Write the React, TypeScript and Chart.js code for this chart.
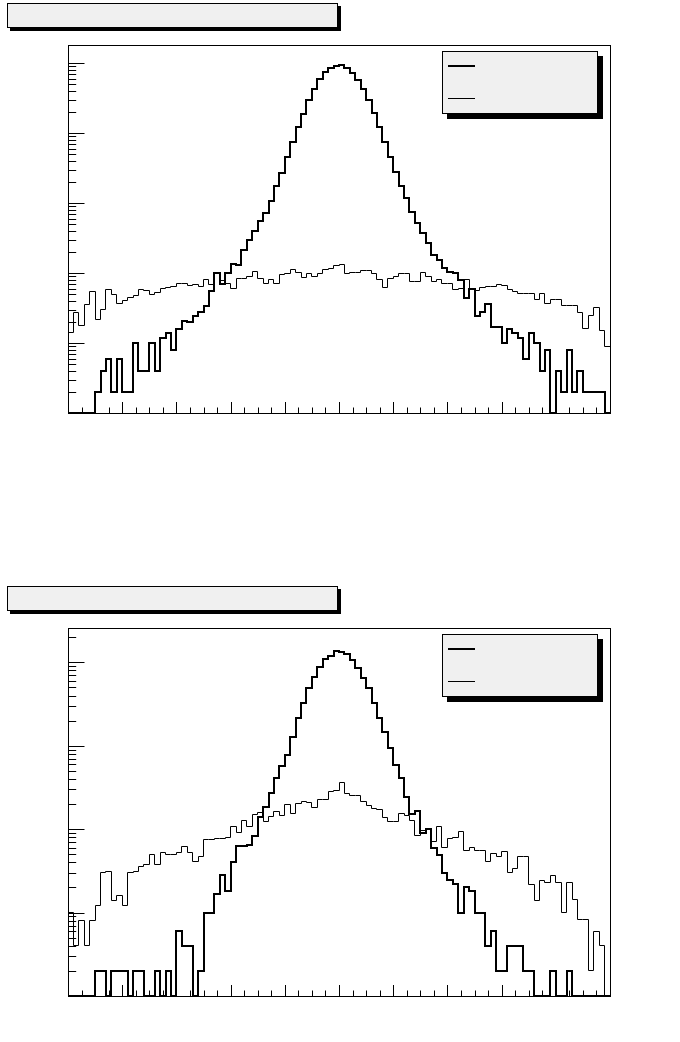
import React, { useEffect, useRef } from "react";
import { Chart, registerables } from "chart.js";

Chart.register(...registerables);

// ---- Data: 100 bins per histogram (bin index units on x) ----
const NBINS = 100;

// Panel 1: thick (peaked) and thin (flat) histograms
const sig1 = [
  0, 0, 0, 0, 0, 2, 4, 6, 2, 6,
  2, 2, 10, 4, 4, 10, 4, 12, 14, 8,
  16, 21, 20, 24, 28, 34, 56, 100, 70, 100,
  135, 131, 215, 299, 405, 558, 720, 1080, 1780, 2735,
  4630, 7590, 12200, 18900, 29900, 43000, 59000, 75800, 85000, 92000,
  93000, 85000, 73400, 57600, 43000, 29900, 19300, 12400, 7600, 4540,
  2830, 1770, 1180, 760, 516, 380, 273, 183, 155, 118,
  105, 100, 80, 44, 59, 24, 28, 36, 17, 17,
  10, 16, 14, 12, 6, 14, 10, 4, 8, 0,
  4, 2, 8, 2, 4, 2, 2, 2, 2, 0,
];
const bkg1 = [
  14, 27, 18, 36, 54, 22, 30, 58, 49, 37,
  41, 45, 48, 59, 56, 49, 52, 61, 63, 64,
  72, 72, 66, 68, 64, 80, 68, 100, 78, 72,
  61, 84, 84, 89, 105, 84, 72, 80, 72, 97,
  98, 111, 103, 87, 98, 89, 98, 111, 118, 129,
  131, 100, 102, 102, 108, 108, 100, 80, 63, 84,
  89, 98, 98, 76, 76, 102, 89, 76, 80, 72,
  72, 58, 61, 80, 59, 56, 63, 64, 64, 68,
  66, 59, 54, 51, 51, 51, 42, 51, 37, 42,
  42, 35, 34, 34, 27, 16, 25, 32, 15, 9,
];

// Panel 2
const sig2 = [
  0, 0, 0, 0, 0, 2, 2, 0, 2, 2,
  2, 0, 2, 2, 0, 0, 2, 0, 2, 0,
  6, 4, 4, 0, 2, 10, 10, 16.5, 28.6, 18,
  40.6, 62.7, 62.7, 64, 82.6, 138, 186, 270, 410, 570,
  777, 1285, 2175, 3236, 4900, 6640, 8900, 10900, 12070, 13500,
  13250, 12600, 10700, 8500, 6460, 4900, 3236, 2140, 1480, 950,
  595, 410, 241, 150, 166, 89, 99.5, 58.8, 48.9, 30,
  24.5, 21.9, 10, 20.4, 18.2, 10, 10, 4, 6, 2,
  2, 4, 4, 4, 2, 2, 0, 0, 0, 2,
  0, 0, 2, 0, 0, 0, 0, 0, 0, 0,
];
const bkg2 = [
  10, 4, 8, 4, 8, 12.3, 30, 31, 14, 16,
  12.3, 30, 31, 36, 38, 50, 38, 52, 50, 50,
  53, 62, 53, 41, 47, 75, 75, 77, 77, 80,
  107, 91, 126, 107, 148, 158, 125, 141, 162, 147,
  200, 155, 204, 216, 208, 182, 224, 227, 285, 289,
  361, 266, 251, 251, 214, 190, 175, 170, 138, 123,
  123, 155, 144, 128, 83, 97, 99, 72, 107, 60,
  77, 80, 93, 55, 60, 55, 55, 41, 51, 47,
  54, 30, 34, 47, 47, 22, 14, 24, 22.7, 27.5,
  23, 10, 22.7, 14.4, 8.3, 8.3, 2, 6, 4, 0,
];

// axis ranges (log y)
const Y_MIN = 1;
const Y_MAX_1 = 182600;
const Y_MAX_2 = 25800;

// points at bin low edges, stepped 'before' draws each bin as a flat run
function histPoints(vals: number[]) {
  const clampV = (v: number) => (v <= Y_MIN ? Y_MIN : v);
  const pts: { x: number; y: number }[] = [];
  for (let i = 0; i < vals.length; i++) pts.push({ x: i, y: clampV(vals[i]) });
  pts.push({ x: NBINS, y: clampV(vals[vals.length - 1]) });
  return pts;
}

type Box = { x: number; y: number; w: number; h: number; shadow: number };

// snap line vertices to device pixels so 1px lines stay crisp like ROOT output
const pixelSnap = {
  id: "pixelSnap",
  beforeDatasetDraw(chart: any, args: any) {
    const meta = args.meta;
    const ds = chart.data.datasets[args.index];
    const off = (ds.borderWidth || 1) % 2 === 1 ? 0.5 : 0;
    meta.data.forEach((el: any) => {
      el.x = Math.round(el.x - off) + off;
      el.y = Math.round(el.y - off) + off;
    });
    if (meta.dataset) meta.dataset._path = undefined;
  },
};

const rootDecor = {
  id: "rootDecor",
  afterDraw(chart: any, _args: any, opts: any) {
    const { ctx, chartArea: a, scales } = chart;
    const xs = scales.x;
    const ys = scales.y;
    ctx.save();
    ctx.strokeStyle = "#000";
    ctx.lineWidth = 1;
    // frame
    ctx.strokeRect(
      Math.round(a.left) + 0.5,
      Math.round(a.top) + 0.5,
      Math.round(a.right - a.left),
      Math.round(a.bottom - a.top)
    );
    ctx.beginPath();
    // x ticks (inside, from bottom)
    for (let k = 0; k <= 40; k++) {
      const v = k * 2.5;
      const px = Math.round(xs.getPixelForValue(v)) + 0.5;
      const len = k % 4 === 0 ? 11 : 5.5;
      ctx.moveTo(px, a.bottom);
      ctx.lineTo(px, a.bottom - len);
    }
    // y ticks (inside, from left)
    for (let d = 0; d <= 6; d++) {
      for (let m = 1; m <= 9; m++) {
        const val = m * Math.pow(10, d);
        if (val < ys.min || val > ys.max) continue;
        const py = Math.round(ys.getPixelForValue(val)) + 0.5;
        const len = m === 1 ? 16.5 : 8.2;
        ctx.moveTo(a.left, py);
        ctx.lineTo(a.left + len, py);
      }
    }
    ctx.stroke();

    const drawBox = (b: Box) => {
      ctx.fillStyle = "#000";
      ctx.fillRect(b.x + b.shadow, b.y + b.shadow, b.w, b.h);
      ctx.fillStyle = "#f0f0f0";
      ctx.fillRect(b.x, b.y, b.w, b.h);
      ctx.strokeStyle = "#000";
      ctx.lineWidth = 1;
      ctx.strokeRect(b.x + 0.5, b.y + 0.5, b.w - 1, b.h - 1);
    };
    drawBox(opts.titleBox);
    drawBox(opts.legendBox);
    // legend samples
    const lb = opts.legendBox as Box;
    const ds = chart.data.datasets;
    const samples = [ds[1], ds[0]];
    samples.forEach((d: any, i: number) => {
      const y = lb.y + 15 + i * 32 + (d.borderWidth % 2 === 1 ? 0.5 : 0);
      ctx.beginPath();
      ctx.strokeStyle = d.borderColor;
      ctx.lineWidth = d.borderWidth;
      ctx.moveTo(lb.x + 6, y);
      ctx.lineTo(lb.x + 33, y);
      ctx.stroke();
    });
    ctx.restore();
  },
};

function Panel({ top, sig, bkg, yMax }: { top: number; sig: number[]; bkg: number[]; yMax: number }) {
  const ref = useRef<HTMLCanvasElement>(null);
  useEffect(() => {
    const chart = new Chart(ref.current as HTMLCanvasElement, {
      type: "line",
      data: {
        datasets: [
          {
            label: "",
            data: histPoints(bkg),
            borderColor: "#000",
            borderWidth: 1,
            stepped: "before",
            pointRadius: 0,
            fill: false,
            clip: false,
          },
          {
            label: "",
            data: histPoints(sig),
            borderColor: "#000",
            borderWidth: 2,
            stepped: "before",
            pointRadius: 0,
            fill: false,
            clip: false,
          },
        ],
      } as any,
      options: {
        animation: false,
        responsive: false,
        maintainAspectRatio: false,
        events: [],
        layout: { padding: { left: 68, top: 45, right: 70, bottom: 27 } },
        scales: {
          x: { type: "linear", min: 0, max: NBINS, display: false },
          y: { type: "logarithmic", min: Y_MIN, max: yMax, display: false },
        },
        plugins: {
          legend: { display: false },
          tooltip: { enabled: false },
          title: { display: false },
          rootDecor: {
            titleBox: { x: 7, y: 3, w: 331, h: 25, shadow: 3 },
            legendBox: { x: 442, y: 51, w: 156, h: 63, shadow: 5 },
          },
        } as any,
      },
      plugins: [pixelSnap, rootDecor],
    });
    return () => chart.destroy();
  }, []);
  return (
    <canvas
      ref={ref}
      width={680}
      height={440}
      style={{ position: "absolute", left: 0, top, width: 680, height: 440 }}
    />
  );
}

export default function App() {
  return (
    <div
      style={{
        position: "absolute",
        left: 0,
        top: 0,
        width: 680,
        height: 1042,
        overflow: "hidden",
        background: "#fff",
      }}
    >
      <Panel top={0} sig={sig1} bkg={bkg1} yMax={Y_MAX_1} />
      <Panel top={583} sig={sig2} bkg={bkg2} yMax={Y_MAX_2} />
    </div>
  );
}
